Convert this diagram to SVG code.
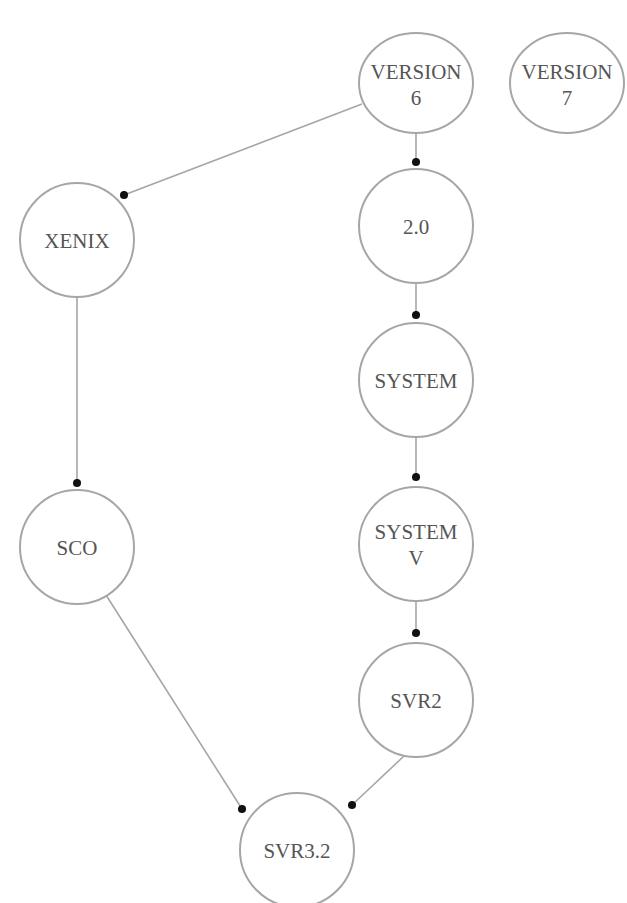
<svg xmlns="http://www.w3.org/2000/svg" width="627" height="903" viewBox="0 0 627 903">
  <style>
    .node ellipse, .node circle { fill: #ffffff; stroke: #a6a6a6; stroke-width: 2; }
    .node text { font-family: "Liberation Serif", "Times New Roman", serif; font-size: 21px; fill: #555555; text-anchor: middle; }
    .edge { fill: none; stroke: #a6a6a6; stroke-width: 1.6; marker-end: url(#dot); }
  </style>
  <defs>
    <marker id="dot" viewBox="0 0 10 10" refX="5" refY="5" markerWidth="9" markerHeight="9" markerUnits="userSpaceOnUse">
      <circle cx="5" cy="5" r="4.5" fill="#111111"/>
    </marker>
  </defs>
  <rect width="627" height="903" fill="#ffffff"/>

  <g id="connectors">
    <path class="edge" d="M362,104 L124,195"/>
    <path class="edge" d="M416,133 L416,162"/>
    <path class="edge" d="M416,283 L416,315"/>
    <path class="edge" d="M416,437 L416,477"/>
    <path class="edge" d="M416,600 L416,633"/>
    <path class="edge" d="M77,297 L77,483"/>
    <path class="edge" d="M106,595 L242,809"/>
    <path class="edge" d="M404,756 L352,805"/>
  </g>

  <g id="version6" class="node">
    <ellipse cx="416" cy="83" rx="57" ry="50"/>
    <text x="416" y="79">VERSION</text>
    <text x="416" y="105">6</text>
  </g>
  <g id="version7" class="node">
    <ellipse cx="567" cy="83" rx="57" ry="50"/>
    <text x="567" y="79">VERSION</text>
    <text x="567" y="105">7</text>
  </g>
  <g id="xenix" class="node">
    <circle cx="77" cy="240" r="57"/>
    <text x="77" y="248">XENIX</text>
  </g>
  <g id="v2_0" class="node">
    <circle cx="416" cy="226" r="57"/>
    <text x="416" y="234">2.0</text>
  </g>
  <g id="system3" class="node">
    <circle cx="416" cy="380" r="57"/>
    <text x="416" y="388">SYSTEM</text>
  </g>
  <g id="sco" class="node">
    <circle cx="77" cy="547" r="57"/>
    <text x="77" y="555">SCO</text>
  </g>
  <g id="system5" class="node">
    <circle cx="416" cy="544" r="57"/>
    <text x="416" y="539">SYSTEM</text>
    <text x="416" y="565">V</text>
  </g>
  <g id="svr2" class="node">
    <circle cx="416" cy="700" r="57"/>
    <text x="416" y="708">SVR2</text>
  </g>
  <g id="svr32" class="node">
    <circle cx="297" cy="850" r="57"/>
    <text x="297" y="858">SVR3.2</text>
  </g>
</svg>
